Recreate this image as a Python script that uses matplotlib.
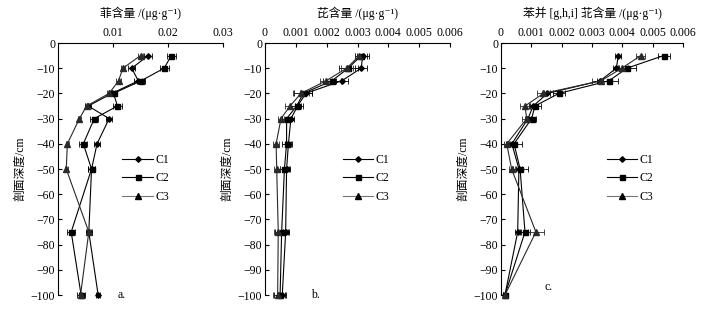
import matplotlib.pyplot as plt

plt.rcParams['font.family'] = ['Liberation Serif', 'Noto Sans CJK SC', 'DejaVu Sans']
plt.rcParams['font.size'] = 8.5
plt.rcParams['axes.unicode_minus'] = True

depth = [-5, -10, -15, -20, -25, -30, -40, -50, -75, -100]

# 菲 (phenanthrene)
phe_c1 = [0.0164, 0.0134, 0.0146, 0.0098, 0.0055, 0.0093, 0.0071, 0.0061, 0.0056, 0.0073]
phe_c2 = [0.0206, 0.0193, 0.0151, 0.0101, 0.0108, 0.0066, 0.0046, 0.0061, 0.0024, 0.0042]
phe_c3 = [0.0150, 0.0118, 0.0110, 0.0093, 0.0052, 0.0039, 0.0017, 0.0015, 0.0056, 0.0041]
phe_e1 = [0.0007, 0.0006, 0.0007, 0.0006, 0.0005, 0.0005, 0.0005, 0.0007, 0.0005, 0.0004]
phe_e2 = [0.0008, 0.0008, 0.0008, 0.0007, 0.0008, 0.0007, 0.0007, 0.0006, 0.0007, 0.0007]
phe_e3 = [0.0004, 0.0003, 0.0004, 0.0004, 0.0003, 0.0003, 0.0003, 0.0003, 0.0004, 0.0003]

# 芘 (pyrene)
pyr_c1 = [0.00317, 0.00312, 0.00249, 0.00132, 0.00106, 0.00084, 0.00076, 0.00070, 0.00067, 0.00056]
pyr_c2 = [0.00312, 0.00270, 0.00217, 0.00124, 0.00103, 0.00070, 0.00070, 0.00063, 0.00054, 0.00049]
pyr_c3 = [0.00306, 0.00265, 0.00198, 0.00117, 0.00081, 0.00052, 0.00036, 0.00038, 0.00043, 0.00041]
pyr_e1 = [0.00020, 0.00020, 0.00020, 0.00020, 0.00010, 0.00010, 0.00010, 0.00010, 0.00010, 0.00010]
pyr_e2 = [0.00020, 0.00030, 0.00030, 0.00030, 0.00020, 0.00015, 0.00015, 0.00015, 0.00020, 0.00020]
pyr_e3 = [0.00015, 0.00020, 0.00020, 0.00025, 0.00015, 0.00010, 0.00010, 0.00010, 0.00015, 0.00015]

# 苯并[g,h,i]苝
bgp_c1 = [0.00387, 0.00380, 0.00327, 0.00153, 0.00106, 0.00089, 0.00036, 0.00059, 0.00055, 0.00013]
bgp_c2 = [0.00536, 0.00415, 0.00356, 0.00191, 0.00112, 0.00101, 0.00043, 0.00063, 0.00079, 0.00013]
bgp_c3 = [0.00461, 0.00398, 0.00330, 0.00140, 0.00079, 0.00085, 0.00019, 0.00035, 0.00115, 0.00013]
bgp_e1 = [0.00010, 0.00010, 0.00010, 0.00010, 0.00010, 0.00010, 0.00010, 0.00010, 0.00010, 0.00005]
bgp_e2 = [0.00020, 0.00030, 0.00030, 0.00020, 0.00020, 0.00015, 0.00027, 0.00025, 0.00015, 0.00005]
bgp_e3 = [0.00015, 0.00020, 0.00030, 0.00020, 0.00015, 0.00015, 0.00010, 0.00010, 0.00027, 0.00005]

titles = ['菲含量 /(μg·g⁻¹)', '芘含量 /(μg·g⁻¹)', '苯并 [g,h,i] 苝含量 /(μg·g⁻¹)']
panel_tags = ['a.', 'b.', 'c.']
series_names = ['C1', 'C2', 'C3']

fig = plt.figure(figsize=(7.08, 3.17), dpi=100)

W, H = 708.0, 317.0
boxes = [(58, 223), (265, 450), (501, 683)]
top_px, bot_px = 43, 295

panels = [
    ([phe_c1, phe_c2, phe_c3], [phe_e1, phe_e2, phe_e3], 0.03, [0.01, 0.02, 0.03], ['0.01', '0.02', '0.03']),
    ([pyr_c1, pyr_c2, pyr_c3], [pyr_e1, pyr_e2, pyr_e3], 0.006,
     [0, 0.001, 0.002, 0.003, 0.004, 0.005, 0.006], ['0', '0.001', '0.002', '0.003', '0.004', '0.005', '0.006']),
    ([bgp_c1, bgp_c2, bgp_c3], [bgp_e1, bgp_e2, bgp_e3], 0.006,
     [0, 0.001, 0.002, 0.003, 0.004, 0.005, 0.006], ['0', '0.001', '0.002', '0.003', '0.004', '0.005', '0.006']),
]

markers = ['D', 's', '^']
msizes = [2.8, 3.6, 4.0]
colors = ['black', 'black', '#2a2a2a']
leg_colors = ['black', 'black', '#777777']
leg_x = [0.39, 0.42, 0.58]
tag_pos = [(0.36, 0.0), (0.25, 0.0), (0.24, 0.03)]

for k, (vals, errs, xmax, ticks, ticklabels) in enumerate(panels):
    l, r = boxes[k]
    ax = fig.add_axes([l / W, 1 - bot_px / H, (r - l) / W, (bot_px - top_px) / H])
    for j in range(3):
        ax.errorbar(vals[j], depth, xerr=errs[j], color=colors[j], ecolor=colors[j],
                    marker=markers[j], markersize=msizes[j], linewidth=0.8,
                    elinewidth=0.6, capsize=2, capthick=0.6, clip_on=False)
    ax.set_xlim(0, xmax)
    ax.set_ylim(-100, 0)
    ax.set_yticks(range(0, -101, -10))
    ax.set_xticks(ticks)
    ax.set_xticklabels(ticklabels)
    ax.xaxis.tick_top()
    ax.xaxis.set_label_position('top')
    ax.spines['right'].set_visible(False)
    ax.spines['bottom'].set_visible(False)
    ax.spines['left'].set_linewidth(0.8)
    ax.spines['top'].set_linewidth(0.8)
    ax.tick_params(direction='in', length=3, width=0.8, pad=2)
    ax.tick_params(axis='x', pad=3)
    ax.set_xlabel(titles[k], labelpad=7)
    ax.set_ylabel('剖面深度/cm', labelpad=3)
    handles = [plt.Line2D([], [], color=leg_colors[j], marker=markers[j], markersize=msizes[j],
                          markerfacecolor='black', markeredgecolor='black', linewidth=0.8)
               for j in range(3)]
    ax.legend(handles, series_names, loc='upper left', bbox_to_anchor=(leg_x[k], 0.56),
              frameon=False, handlelength=2.6, handletextpad=0.2,
              labelspacing=0.55, borderaxespad=0, borderpad=0)
    ax.text(tag_pos[k][0], tag_pos[k][1], panel_tags[k], transform=ax.transAxes,
            ha='left', va='center')

fig.savefig('out.png', dpi=100)
